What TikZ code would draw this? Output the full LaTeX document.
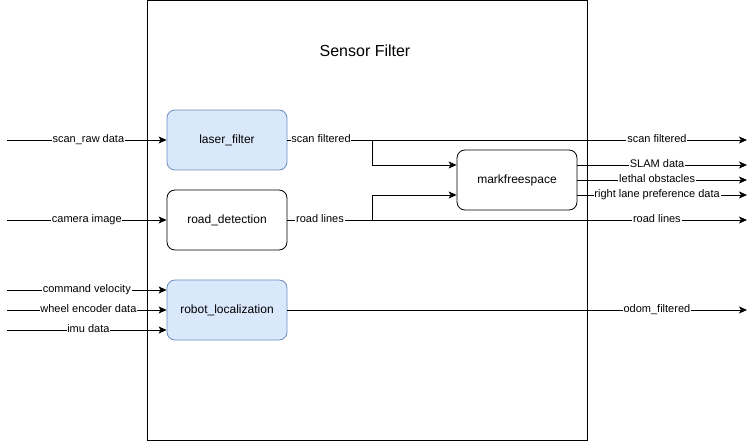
\documentclass[tikz,border=0pt]{standalone}
\usepackage{fontspec}
\setmainfont{Liberation Sans}
\usetikzlibrary{arrows.meta}
\definecolor{bluefill}{HTML}{DAE8FC}
\definecolor{bluedraw}{HTML}{6C8EBF}
\begin{document}
\begin{tikzpicture}[x=1pt,y=-1pt,
  proc/.style={draw=black,rounded corners=8pt,minimum width=120pt,minimum height=60pt,font=\fontsize{12}{14}\selectfont,inner sep=0pt,line width=0.8pt},
  blueproc/.style={proc,fill=bluefill,draw=bluedraw},
  conn/.style={line width=0.8pt,-{Stealth[length=8pt,width=7pt,inset=2pt]}},
  lbl/.style={fill=white,inner sep=0.8pt,font=\fontsize{11}{12}\selectfont,text height=8pt,text depth=2.5pt}]
\useasboundingbox (0,0) rectangle (756,441);
\node[draw,line width=0.8pt,minimum width=440pt,minimum height=439pt,inner sep=0pt,anchor=north west] (frame) at (147,0.5) {};
\node[font=\fontsize{16}{18}\selectfont] (title) at (365,51) {Sensor Filter};
\node[blueproc] (laser) at (227,140) {laser\_filter};
\node[proc] (road) at (227,220) {road\_detection};
\node[blueproc] (robot) at (227,310) {robot\_localization};
\node[proc] (mark) at (517,180) {markfreespace};
% free ends
\coordinate (i1) at (7,140);
\coordinate (i2) at (7,220);
\coordinate (i3) at (7,290);
\coordinate (i4) at (7,310);
\coordinate (i5) at (7,330);
\coordinate (o1) at (747,140);
\coordinate (o2) at (747,165);
\coordinate (o3) at (747,180);
\coordinate (o4) at (747,195);
\coordinate (o5) at (747,220);
\coordinate (o6) at (747,310);
% inputs
\draw[conn] (i1) -- node[lbl,pos=0.51]{scan\_raw data} (laser.west);
\draw[conn] (i2) -- node[lbl,pos=0.5]{camera image} (road.west);
\draw[conn] (i3) -- node[lbl,pos=0.5]{command velocity} (i3 -| robot.west);
\draw[conn] (i4) -- node[lbl,pos=0.51]{wheel encoder data} (robot.west);
\draw[conn] (i5) -- node[lbl,pos=0.51]{imu data} (i5 -| robot.west);
% laser -> outputs
\draw[conn] (laser.east) -- node[lbl,pos=0.804]{scan filtered} (o1);
\draw[conn] (laser.east) -- (372,140) -- (372,165) -- (mark.west |- 0,165);
\node[lbl] (sfl) at (321,140) {scan filtered};
% road -> outputs
\draw[conn] (road.east) -- node[lbl,pos=0.804]{road lines} (o5);
\draw[conn] (road.east) -- (372,220) -- (372,195) -- (mark.west |- 0,195);
\node[lbl] (rll) at (320,220) {road lines};
% mark outputs
\draw[conn] (mark.east |- 0,165) -- node[lbl,pos=0.47]{SLAM data} (o2);
\draw[conn] (mark.east |- 0,180) -- node[lbl,pos=0.47]{lethal obstacles} (o3);
\draw[conn] (mark.east |- 0,195) -- node[lbl,pos=0.47]{right lane preference data} (o4);
% robot output
\draw[conn] (robot.east) -- node[lbl,pos=0.804]{odom\_filtered} (o6);
\end{tikzpicture}
\end{document}
